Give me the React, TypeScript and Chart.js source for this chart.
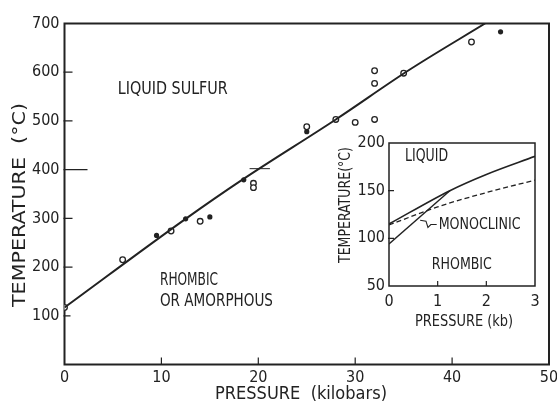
import React, { useEffect, useRef } from "react";
import { Chart, registerables } from "chart.js";

Chart.register(...registerables);

const FONT = '"DejaVu Sans Condensed", "DejaVu Sans", sans-serif';
const INK = "#222222";

// ---------- main chart data ----------
const xTickValues = [0, 10, 20, 30, 40, 50];
const yTickValues = [100, 200, 300, 400, 500, 600, 700];
const openPressure = [0, 6, 11, 14, 19.5, 19.5, 25, 28, 30, 32, 32, 32, 35, 42];
const openTemperature = [117, 215, 274, 294, 372, 363, 488, 503, 497, 503, 577, 603, 598, 662];
const filledPressure = [9.5, 12.5, 15, 18.5, 25, 45];
const filledTemperature = [265, 299, 303, 379, 478, 683];
const fitPressure = [0, 12.5, 18.4, 28, 35.6, 43.4];
const fitTemperature = [117, 299, 380, 503, 605, 700];
const markPressure = [19.1, 21.2];
const markTemperature = [402, 402];

// ---------- inset data ----------
const insetXTicks = [0, 1, 2, 3];
const insetYTicks = [50, 100, 150, 200];
const liquidusPressure = [0, 1.25, 2, 3];
const liquidusTemperature = [115, 150, 167, 186];
const rhombMonoPressure = [0, 1.25];
const rhombMonoTemperature = [94, 150];
const metastablePressure = [0, 1, 2, 3];
const metastableTemperature = [114, 133, 148, 161];
const pointerPressure = [0.98, 0.86, 0.8, 0.76, 0.64];
const pointerTemperature = [114.5, 114.5, 111.5, 118, 119];

const pts = (xs: number[], ys: number[]) => xs.map((x, i) => ({ x, y: ys[i] }));

type TextItem = {
  text: string;
  x: number;
  y: number;
  data?: boolean;
  align?: "left" | "center";
  width: number;
  size: number;
  rotate?: boolean;
};

function drawFitted(ctx: CanvasRenderingContext2D, it: TextItem, px: number, py: number) {
  ctx.save();
  ctx.font = `${it.size}px ${FONT}`;
  ctx.fillStyle = INK;
  ctx.textBaseline = "middle";
  ctx.textAlign = "left";
  const w = ctx.measureText(it.text).width;
  const sx = it.width / w;
  ctx.translate(px, py);
  if (it.rotate) ctx.rotate(-Math.PI / 2);
  ctx.scale(sx, 1);
  const startX = it.align === "center" || it.rotate ? -w / 2 : 0;
  ctx.fillText(it.text, startX, 0);
  ctx.restore();
}

function framePlugin(cfg: {
  yTicks: Record<number, number>;
  xTicks: Record<number, number>;
  texts: TextItem[];
  lineWidth: number;
}) {
  return {
    id: "frame",
    beforeDatasetsDraw(chart: any) {
      const { ctx, chartArea: a, scales } = chart;
      ctx.save();
      ctx.strokeStyle = INK;
      ctx.lineWidth = cfg.lineWidth;
      ctx.strokeRect(a.left, a.top, a.right - a.left, a.bottom - a.top);
      ctx.lineWidth = 1.2;
      ctx.beginPath();
      Object.entries(cfg.yTicks).forEach(([v, len]) => {
        const y = scales.y.getPixelForValue(Number(v));
        ctx.moveTo(a.left - 1, y);
        ctx.lineTo(a.left + len, y);
      });
      Object.entries(cfg.xTicks).forEach(([v, len]) => {
        const x = scales.x.getPixelForValue(Number(v));
        ctx.moveTo(x, a.bottom);
        ctx.lineTo(x, a.bottom - len);
      });
      ctx.stroke();
      ctx.restore();
    },
    afterDraw(chart: any) {
      const { ctx, scales } = chart;
      cfg.texts.forEach((it) => {
        const px = it.data ? scales.x.getPixelForValue(it.x) : it.x;
        const py = it.data ? scales.y.getPixelForValue(it.y) : it.y;
        drawFitted(ctx, it, px, py);
      });
    },
  };
}

function axis(
  min: number,
  max: number,
  values: number[],
  pad: number,
  fit: (s: any) => void
) {
  return {
    type: "linear" as const,
    min,
    max,
    afterBuildTicks: (s: any) => {
      s.ticks = values.map((v) => ({ value: v }));
    },
    ticks: {
      font: { family: FONT, size: 16 },
      color: INK,
      padding: pad,
      maxRotation: 0,
      autoSkip: false,
    },
    grid: { display: false, drawTicks: false },
    border: { display: false },
    afterFit: fit,
  };
}

export default function App() {
  const mainRef = useRef<HTMLCanvasElement>(null);
  const insetRef = useRef<HTMLCanvasElement>(null);

  useEffect(() => {
    const main = new Chart(mainRef.current!, {
      type: "scatter",
      data: {
        datasets: [
          {
            data: pts(fitPressure, fitTemperature),
            showLine: true,
            borderColor: INK,
            borderWidth: 2,
            pointRadius: 0,
            cubicInterpolationMode: "monotone",
          },
          {
            data: pts(markPressure, markTemperature),
            showLine: true,
            borderColor: INK,
            borderWidth: 1,
            pointRadius: 0,
          },
          {
            data: pts(openPressure, openTemperature),
            showLine: false,
            pointRadius: 2.8,
            pointBorderWidth: 1.3,
            pointBorderColor: INK,
            pointBackgroundColor: "#ffffff",
          },
          {
            data: pts(filledPressure, filledTemperature),
            showLine: false,
            pointRadius: 2.6,
            pointBorderWidth: 0,
            pointBackgroundColor: INK,
          },
        ],
      },
      options: {
        animation: false,
        responsive: false,
        devicePixelRatio: 1,
        events: [],
        layout: { padding: { top: 23.5, right: 8, bottom: 0, left: 0 } },
        plugins: { legend: { display: false }, tooltip: { enabled: false } },
        scales: {
          x: axis(0, 50, xTickValues, 4, (s: any) => {
            s.height = 38.5;
            s.paddingLeft = 0;
            s.paddingRight = 0;
          }),
          y: axis(0, 700, yTickValues, 5, (s: any) => {
            s.width = 64.5;
            s.paddingTop = 0;
            s.paddingBottom = 0;
          }),
        },
      } as any,
      plugins: [
        framePlugin({
          lineWidth: 2,
          yTicks: { 100: 6, 200: 8, 300: 8, 400: 23, 500: 8, 600: 8 },
          xTicks: { 10: 7, 20: 7, 30: 7, 40: 7 },
          texts: [
            { text: "LIQUID SULFUR", x: 5.5, y: 564, data: true, width: 110, size: 17 },
            { text: "RHOMBIC", x: 9.85, y: 173, data: true, width: 58, size: 17 },
            { text: "OR AMORPHOUS", x: 9.85, y: 130, data: true, width: 113, size: 17 },
            { text: "PRESSURE  (kilobars)", x: 301, y: 395, align: "center", width: 172, size: 17 },
            { text: "TEMPERATURE  (°C)", x: 20.5, y: 205, rotate: true, width: 204, size: 17 },
          ],
        }) as any,
      ],
    });

    const inset = new Chart(insetRef.current!, {
      type: "scatter",
      data: {
        datasets: [
          {
            data: pts(liquidusPressure, liquidusTemperature),
            showLine: true,
            borderColor: INK,
            borderWidth: 1.6,
            pointRadius: 0,
            cubicInterpolationMode: "monotone",
          },
          {
            data: pts(rhombMonoPressure, rhombMonoTemperature),
            showLine: true,
            borderColor: INK,
            borderWidth: 1.4,
            pointRadius: 0,
          },
          {
            data: pts(metastablePressure, metastableTemperature),
            showLine: true,
            borderColor: INK,
            borderWidth: 1.3,
            borderDash: [5, 3],
            pointRadius: 0,
            cubicInterpolationMode: "monotone",
          },
          {
            data: pts(pointerPressure, pointerTemperature),
            showLine: true,
            borderColor: INK,
            borderWidth: 1.1,
            pointRadius: 0,
          },
        ],
      },
      options: {
        animation: false,
        responsive: false,
        devicePixelRatio: 1,
        events: [],
        layout: { padding: { top: 15, right: 15, bottom: 0, left: 0 } },
        plugins: { legend: { display: false }, tooltip: { enabled: false } },
        scales: {
          x: axis(0, 3, insetXTicks, 6, (s: any) => {
            s.height = 47;
            s.paddingLeft = 0;
            s.paddingRight = 0;
          }),
          y: axis(50, 200, insetYTicks, 4, (s: any) => {
            s.width = 59;
            s.paddingTop = 0;
            s.paddingBottom = 0;
          }),
        },
      } as any,
      plugins: [
        framePlugin({
          lineWidth: 1.5,
          yTicks: { 100: 5, 150: 5 },
          xTicks: { 1: 5, 2: 5 },
          texts: [
            { text: "LIQUID", x: 0.33, y: 185.5, data: true, width: 43, size: 17 },
            { text: "MONOCLINIC", x: 1.02, y: 114, data: true, width: 82, size: 16 },
            { text: "RHOMBIC", x: 0.88, y: 72, data: true, width: 60, size: 16 },
            { text: "PRESSURE (kb)", x: 134, y: 194, align: "center", width: 98, size: 16 },
            { text: "TEMPERATURE(°C)", x: 16, y: 77, rotate: true, width: 116, size: 15 },
          ],
        }) as any,
      ],
    });

    return () => {
      main.destroy();
      inset.destroy();
    };
  }, []);

  return (
    <div style={{ position: "fixed", left: 0, top: 0, width: 557, height: 403, background: "#fff" }}>
      <canvas ref={mainRef} width={557} height={403} style={{ position: "absolute", left: 0, top: 0 }} />
      <canvas ref={insetRef} width={220} height={205} style={{ position: "absolute", left: 330, top: 128 }} />
    </div>
  );
}
